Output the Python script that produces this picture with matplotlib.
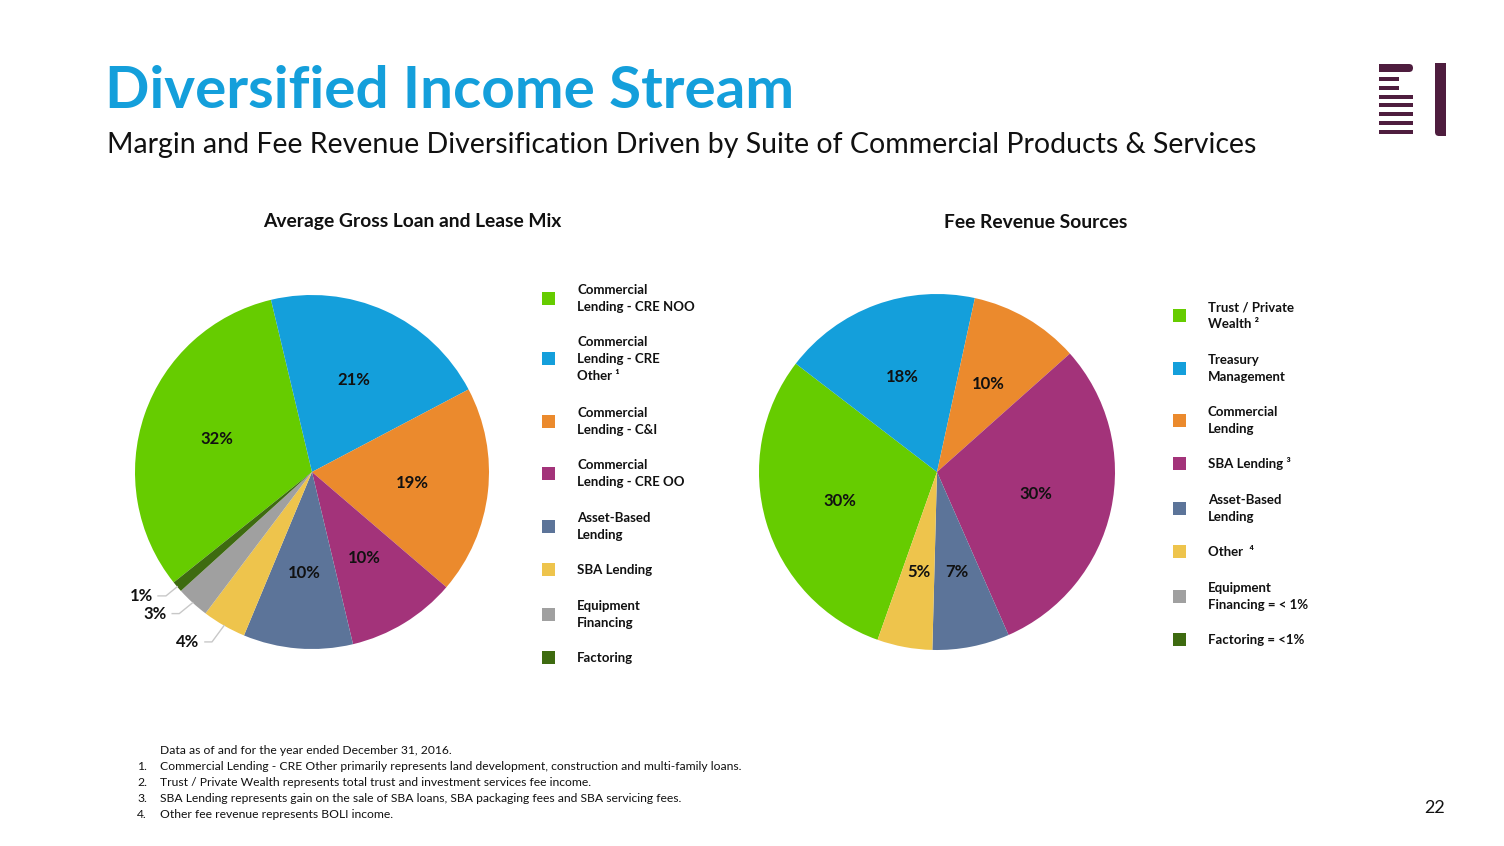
import matplotlib
matplotlib.use("Agg")
import matplotlib.pyplot as plt
from matplotlib.patches import Rectangle, FancyBboxPatch
import numpy as np

# ---------------- data ----------------
loan_labels = ["Commercial\nLending - CRE NOO", "Commercial\nLending - CRE\nOther \u00b9",
               "Commercial\nLending - C&I", "Commercial\nLending - CRE OO",
               "Asset-Based\nLending", "SBA Lending", "Equipment\nFinancing", "Factoring"]
loan_values = [32, 21, 19, 10, 10, 4, 3, 1]

fee_labels = ["Trust / Private\nWealth \u00b2", "Treasury\nManagement", "Commercial\nLending",
              "SBA Lending \u00b3", "Asset-Based\nLending", "Other  \u2074",
              "Equipment\nFinancing = < 1%", "Factoring = <1%"]
fee_values = [30, 18, 10, 30, 7, 5]

colors = ["#66CC00", "#149FDB", "#EB8A2D", "#A3337A", "#5C7499", "#EEC44C", "#A0A0A0", "#3E6B10"]

title = "Diversified Income Stream"
subtitle = "Margin and Fee Revenue Diversification Driven by Suite of Commercial Products & Services"
left_title = "Average Gross Loan and Lease Mix"
right_title = "Fee Revenue Sources"
footnotes = ["Data as of and for the year ended December 31, 2016.",
             "Commercial Lending - CRE Other primarily represents land development, construction and multi-family loans.",
             "Trust / Private Wealth represents total trust and investment services fee income.",
             "SBA Lending represents gain on the sale of SBA loans, SBA packaging fees and SBA servicing fees.",
             "Other fee revenue represents BOLI income."]
page_number = "22"

# ---------------- figure ----------------
W, H = 1504, 846
fig = plt.figure(figsize=(W / 100, H / 100), dpi=100)
fig.patch.set_facecolor("white")
FONT = ["Lato", "DejaVu Sans"]
TXT = "#111111"

# overlay axes in pixel coordinates for text / legend / logo
ov = fig.add_axes([0, 0, 1, 1])
ov.set_xlim(0, W)
ov.set_ylim(H, 0)
ov.axis("off")


def pie_axes(cx, cy, r):
    ax = fig.add_axes([(cx - r) / W, (H - cy - r) / H, 2 * r / W, 2 * r / H])
    return ax


def fix_limits(ax):
    ax.set_xlim(-1, 1)
    ax.set_ylim(-1, 1)
    ax.set_aspect("equal")
    ax.axis("off")


# ---- left pie ----
axL = pie_axes(312, 472, 177)
wedgesL, _ = axL.pie(loan_values, colors=colors[:len(loan_values)], startangle=218.6,
                     counterclock=False, radius=1.0, wedgeprops=dict(linewidth=0))
fix_limits(axL)
for w, v in zip(wedgesL, loan_values):
    mid = np.deg2rad((w.theta1 + w.theta2) / 2)
    if v >= 10:
        axL.text(0.57 * np.cos(mid), 0.57 * np.sin(mid), f"{v}%", ha="center", va="center",
                 fontsize=12, fontweight="bold", family=FONT, color=TXT)

# outside labels for small slices (elbow, end, text x)
small = {5: ((-0.565, -0.96), (-0.605, -0.96), -0.635),
         6: ((-0.75, -0.80), (-0.79, -0.80), -0.82),
         7: ((-0.825, -0.70), (-0.87, -0.70), -0.90)}
for i, (elbow, end, tx) in small.items():
    w = wedgesL[i]
    mid = np.deg2rad((w.theta1 + w.theta2) / 2)
    p0 = (1.0 * np.cos(mid), 1.0 * np.sin(mid))
    axL.plot([p0[0], elbow[0], end[0]], [p0[1], elbow[1], end[1]], color="#C8C8C8", lw=1.0,
             clip_on=False)
    axL.text(tx, end[1], f"{loan_values[i]}%", ha="right", va="center", fontsize=12,
             fontweight="bold", family=FONT, color=TXT)

# ---- right pie ----
axR = pie_axes(937, 472, 178)
wedgesR, _ = axR.pie(fee_values, colors=colors[:len(fee_values)], startangle=250.5,
                     counterclock=False, radius=1.0, wedgeprops=dict(linewidth=0))
fix_limits(axR)
for w, v in zip(wedgesR, fee_values):
    mid = np.deg2rad((w.theta1 + w.theta2) / 2)
    axR.text(0.57 * np.cos(mid), 0.57 * np.sin(mid), f"{v}%", ha="center", va="center",
             fontsize=12, fontweight="bold", family=FONT, color=TXT)

# ---------------- titles ----------------
ov.text(105, 108, title, ha="left", va="baseline", fontsize=42, fontweight="bold",
        family=FONT, color="#149FDB")
ov.text(107, 153, subtitle, ha="left", va="baseline", fontsize=20.5, family=FONT, color=TXT)
ov.text(412, 222, left_title, ha="center", va="center", fontsize=13.9, fontweight="bold",
        family=FONT, color=TXT)
ov.text(1036, 222, right_title, ha="center", va="center", fontsize=13.9, fontweight="bold",
        family=FONT, color=TXT)

# ---------------- legends ----------------
def legend(x_sq, x_txt, tops, labels, cols):
    for top, lab, c in zip(tops, labels, cols):
        lines = lab.split("\n")
        n = len(lines)
        for k, line in enumerate(lines):
            ov.text(x_txt, top + 17 * k, line, ha="left", va="center", fontsize=9.5,
                    fontweight="bold", family=FONT, color=TXT)
        cy = top + 17 * (n - 1) / 2
        ov.add_patch(Rectangle((x_sq - 6.5, cy - 6.5), 13, 13, facecolor=c, edgecolor="none"))


legend(548, 577, [290, 342, 413, 465, 518, 570, 606, 658], loan_labels, colors)
legend(1179, 1208, [307, 360, 412, 464, 500, 552, 588, 640], fee_labels, colors)

# ---------------- footnotes ----------------
FS = 8.7
ov.text(160, 751, footnotes[0], ha="left", va="center", fontsize=FS, family=FONT, color=TXT)
for k, fn in enumerate(footnotes[1:]):
    y = 767 + 16 * k
    ov.text(137, y, f"{k + 1}.", ha="left", va="center", fontsize=FS, family=FONT, color=TXT)
    ov.text(160, y, fn, ha="left", va="center", fontsize=FS, family=FONT, color=TXT)

ov.text(1435, 808, page_number, ha="center", va="center", fontsize=13, family=FONT, color=TXT)

# ---------------- logo ----------------
LOGO = "#4E1D3E"
ov.add_patch(FancyBboxPatch((1379, 64), 34, 8, boxstyle="round,pad=0,rounding_size=4",
                            facecolor=LOGO, edgecolor="none"))
ov.add_patch(Rectangle((1379, 64), 10, 8, facecolor=LOGO, edgecolor="none"))
for y0, x1 in [(77, 1399), (86, 1399), (95, 1413), (103, 1413), (112, 1413), (121, 1413), (130, 1413)]:
    ov.add_patch(Rectangle((1379, y0), x1 - 1379, 4.5, facecolor=LOGO, edgecolor="none"))
ov.add_patch(FancyBboxPatch((1435, 63), 11, 73, boxstyle="round,pad=0,rounding_size=4",
                            facecolor=LOGO, edgecolor="none"))
ov.add_patch(Rectangle((1435, 63), 11, 60, facecolor=LOGO, edgecolor="none"))
ov.add_patch(Rectangle((1441, 63), 5, 73, facecolor=LOGO, edgecolor="none"))

fig.savefig("out.png", dpi=100, facecolor="white")
